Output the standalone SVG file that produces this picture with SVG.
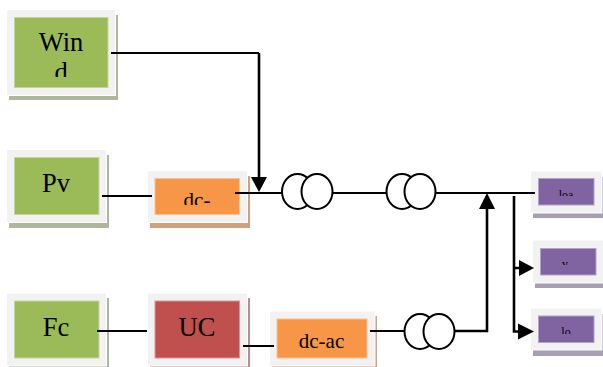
<svg xmlns="http://www.w3.org/2000/svg" width="603" height="367" viewBox="0 0 603 367">
<style>
.o{fill:#f2f2f2;stroke:#fff;stroke-width:1}
.i{stroke-width:1}
.sg{fill:#adb79b}.ig{fill:#9bbb59;stroke:#c4d69b}
.so{fill:#cfa17f}.io{fill:#f79646;stroke:#fac090}
.sr{fill:#b98e8e}.ir{fill:#c0504d;stroke:#d99694}
.sp{fill:#a69fb3}.ip{fill:#8064a2;stroke:#b2a2c7}
text{font-family:"Liberation Serif","Times New Roman",serif;fill:#000;text-anchor:middle}
.l{font-size:26.5px}.m{font-size:21px}.s{font-size:12px}
.w{fill:none;stroke:#000;stroke-width:1.9}
.b{fill:none;stroke:#000;stroke-width:2.6}
.c{fill:#fff;stroke:#000;stroke-width:2}
</style>
<defs>
<clipPath id="cw"><rect x="14" y="17" width="94" height="60"/></clipPath>
<clipPath id="cd"><rect x="155" y="178" width="85" height="27"/></clipPath>
<clipPath id="c1"><rect x="538" y="178" width="56" height="18"/></clipPath>
<clipPath id="c2"><rect x="540" y="248" width="56" height="17"/></clipPath>
<clipPath id="c3"><rect x="538" y="316" width="56" height="18"/></clipPath>
</defs>
<g id="wind"><rect class="sg" x="9" y="15" width="109" height="85"/><rect class="o" x="6.500" y="9.500" width="109" height="86"/><rect class="i ig" x="14.500" y="17.500" width="93.500" height="70"/><text class="l" x="61" y="51">Win</text><text class="l" x="61" y="81" clip-path="url(#cw)">d</text></g>
<g id="pv"><rect class="sg" x="9" y="155" width="100" height="73"/><rect class="o" x="6.500" y="149.500" width="100" height="73"/><rect class="i ig" x="14.500" y="157.500" width="84.500" height="57"/><text class="l" x="56" y="192">Pv</text></g>
<g id="dc1"><rect class="so" x="150" y="176" width="100" height="52"/><rect class="o" x="147.500" y="170.500" width="100" height="52"/><rect class="i io" x="155" y="178.500" width="84.500" height="36"/><text class="m" x="197" y="207" clip-path="url(#cd)">dc-</text></g>
<g id="fc"><rect class="sg" x="9" y="298" width="100" height="71"/><rect class="o" x="6.500" y="293" width="100" height="73"/><rect class="i ig" x="14.500" y="301" width="84.500" height="57"/><text class="l" x="56" y="336">Fc</text></g>
<g id="uc"><rect class="sr" x="150" y="298" width="100" height="71"/><rect class="o" x="147.500" y="293" width="100" height="73"/><rect class="i ir" x="155" y="301" width="84.500" height="57"/><text class="l" x="197" y="336">UC</text></g>
<g id="dc2"><rect class="so" x="272" y="316" width="105" height="53"/><rect class="o" x="269.500" y="311" width="105.500" height="55"/><rect class="i io" x="277" y="319" width="90" height="39"/><text class="m" x="321.500" y="348">dc-ac</text></g>
<g id="load1"><rect class="sp" x="533" y="177" width="70" height="41"/><rect class="o" x="530.500" y="171" width="71.500" height="42"/><rect class="i ip" x="538.500" y="178.500" width="55.500" height="26.500"/><text class="s" x="566" y="199" clip-path="url(#c1)">loa</text></g>
<g id="load2"><rect class="sp" x="535" y="246" width="68" height="42"/><rect class="o" x="532.500" y="240" width="71" height="43"/><rect class="i ip" x="540.500" y="248.500" width="55.500" height="26.500"/><text class="s" x="565" y="267.500" clip-path="url(#c2)">v</text></g>
<g id="load3"><rect class="sp" x="533" y="314" width="70" height="42"/><rect class="o" x="530.500" y="308" width="71.500" height="42"/><rect class="i ip" x="538.500" y="316" width="55.500" height="26.500"/><text class="s" x="566" y="336" clip-path="url(#c3)">lo</text></g>
<g id="connectors">
<path class="w" d="M111 53H259"/>
<path class="b" d="M259 53V180"/>
<path d="M251 177H267L259 192Z"/>
<path class="w" d="M102 196H152M235 193H283M333 193H386M436 193H535M97 331H147M243 346H274M370 331H405"/>
<ellipse class="c" cx="297.500" cy="191.500" rx="15.500" ry="17.500"/><ellipse class="c" cx="317" cy="191.500" rx="15.500" ry="17.500"/>
<ellipse class="c" cx="402" cy="191.500" rx="15.500" ry="17.500"/><ellipse class="c" cx="420" cy="191.500" rx="15.500" ry="17.500"/>
<ellipse class="c" cx="420" cy="331.500" rx="15.500" ry="17.500"/><ellipse class="c" cx="439" cy="331.500" rx="15.500" ry="17.500"/>
<path class="b" d="M455 331H487V206"/>
<path d="M479 209H495L487 193Z"/>
<path class="b" d="M514 196V331.500H520M514 268H520"/>
<path d="M519 260L534 268L519 276Z"/>
<path d="M518 323.500L534 331.500L518 339.500Z"/>
</g>
</svg>
